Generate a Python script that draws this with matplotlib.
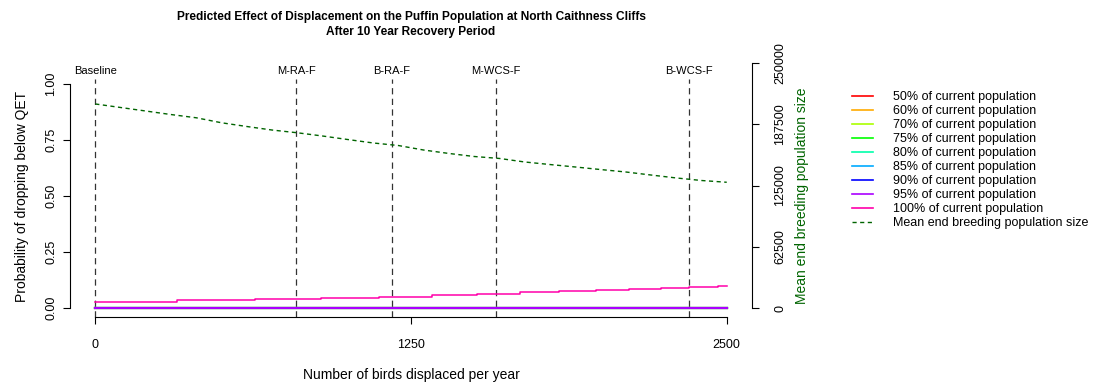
import matplotlib.pyplot as plt
from matplotlib.lines import Line2D

plt.rcParams['font.family'] = ['Liberation Sans', 'DejaVu Sans']

# number of birds displaced per year
displaced = [0, 100, 200, 300, 400, 500, 600, 700, 800, 900, 1000, 1100, 1200,
             1300, 1400, 1500, 1600, 1700, 1800, 1900, 2000, 2100, 2200, 2300,
             2400, 2500]

# mean end breeding population size
mean_pop = [208200, 204600, 201000, 197400, 194100, 189000, 185200, 181600,
            178800, 175500, 171900, 168400, 165800, 161200, 157700, 154600,
            152600, 149000, 146400, 143900, 141300, 138800, 135700, 132700,
            130100, 128300]

# probability of dropping below QET (50% .. 95% thresholds are all zero)
zero_prob = [0.0] * len(displaced)

# 100% threshold: step changes
p100_x = [0, 323, 633, 893, 1123, 1332, 1511, 1681, 1835, 1982, 2112, 2238,
          2350, 2465, 2500]
p100_y = [0.028, 0.034, 0.040, 0.046, 0.050, 0.057, 0.0625, 0.070, 0.076,
          0.080, 0.085, 0.089, 0.094, 0.100, 0.100]

thresholds = ['50%', '60%', '70%', '75%', '80%', '85%', '90%', '95%', '100%']
colors = ['#FF0000', '#FFAA00', '#AAFF00', '#00FF00', '#00FFAA', '#00AAFF',
          '#0000FF', '#AA00FF', '#FF00AA']

scenarios = ['Baseline', 'M-RA-F', 'B-RA-F', 'M-WCS-F', 'B-WCS-F']
scenario_x = [0, 795, 1175, 1586, 2350]

W, H = 1098, 385
fig = plt.figure(figsize=(W / 100, H / 100), dpi=100)

left, right, bottom, top = 70, 752, 317, 75
ax = fig.add_axes([left / W, 1 - bottom / H, (right - left) / W, (bottom - top) / H])
# second axes for population (taller box so 250000 tick fits)
top2 = 55
ax2 = fig.add_axes([left / W, 1 - bottom / H, (right - left) / W, (bottom - top2) / H])

ax.set_xlim(-100, 2600)
ax.set_ylim(-0.04, 1.04)
ax2.set_xlim(-100, 2600)
scale = 245 / 250000
ax2.set_ylim(-9 / scale, (308 - top2) / scale)

dark = '#333333'
for sx, name in zip(scenario_x, scenarios):
    ax.plot([sx, sx], [-0.04, 1.02], color=dark, lw=0.9, dashes=(5, 3.5),
            clip_on=False, zorder=1)
    ax.text(sx, 1.058, name, ha='center', va='center', fontsize=8,
            clip_on=False)

for i in range(len(thresholds) - 1):
    ax.plot(displaced, zero_prob, color=colors[i], lw=1.5, zorder=2)
ax.step(p100_x, p100_y, where='post', color=colors[-1], lw=1.1, zorder=3)

ax2.plot(displaced, mean_pop, color='#006400', lw=1.0, dashes=(3, 2.5))

# left / bottom axes in R style
for s in ['top', 'right']:
    ax.spines[s].set_visible(False)
ax.spines['left'].set_bounds(0, 1)
ax.spines['bottom'].set_bounds(0, 2500)
ax.patch.set_visible(False)
ax.set_xticks([0, 1250, 2500])
ax.set_yticks([0, 0.25, 0.5, 0.75, 1.0])
ax.set_yticklabels(['0.00', '0.25', '0.50', '0.75', '1.00'])
ax.tick_params(axis='x', length=5, width=0.8, pad=11, labelsize=9)
ax.tick_params(axis='y', length=5, width=0.8, pad=4, labelsize=9,
               labelrotation=90)
for lab in ax.get_yticklabels():
    lab.set_va('center')
ax.set_xlabel('Number of birds displaced per year', fontsize=10, labelpad=12)
ax.set_ylabel('Probability of dropping below QET', fontsize=10, labelpad=12)

# right axis
for s in ['top', 'left', 'bottom']:
    ax2.spines[s].set_visible(False)
ax2.spines['right'].set_bounds(0, 250000)
ax2.patch.set_visible(False)
ax2.xaxis.set_visible(False)
ax2.yaxis.tick_right()
ax2.yaxis.set_label_position('right')
ax2.set_yticks([0, 62500, 125000, 187500, 250000])
ax2.set_yticklabels(['0', '62500', '125000', '187500', '250000'])
ax2.tick_params(axis='y', length=5, width=0.8, pad=11, labelsize=9,
                labelrotation=90)
for lab in ax2.get_yticklabels():
    lab.set_va('center')
ax2.set_ylabel('Mean end breeding population size', fontsize=10,
               color='#006400', labelpad=6)
ax2.yaxis.label.set_y((bottom - 196) / (bottom - top2))

title_font = dict(ha='center', va='center', fontsize=8.6, fontweight='bold')
fig.text((left + right) / 2 / W, 1 - 17 / H,
         'Predicted Effect of Displacement on the Puffin Population at North Caithness Cliffs',
         **title_font)
fig.text((left + right) / 2 / W, 1 - 32 / H, 'After 10 Year Recovery Period',
         **title_font)

handles = [Line2D([], [], color=c, lw=1.2) for c in colors]
handles.append(Line2D([], [], color='#006400', lw=1.0, dashes=(3, 2.5)))
labels = [t + ' of current population' for t in thresholds]
labels.append('Mean end breeding population size')
fig.legend(handles, labels, loc='upper left',
           bbox_to_anchor=(852 / W, 1 - 91 / H), frameon=False, fontsize=9,
           labelspacing=0.16, handlelength=1.7, handletextpad=1.55,
           borderpad=0, borderaxespad=0)

fig.savefig('out.png', dpi=100)
